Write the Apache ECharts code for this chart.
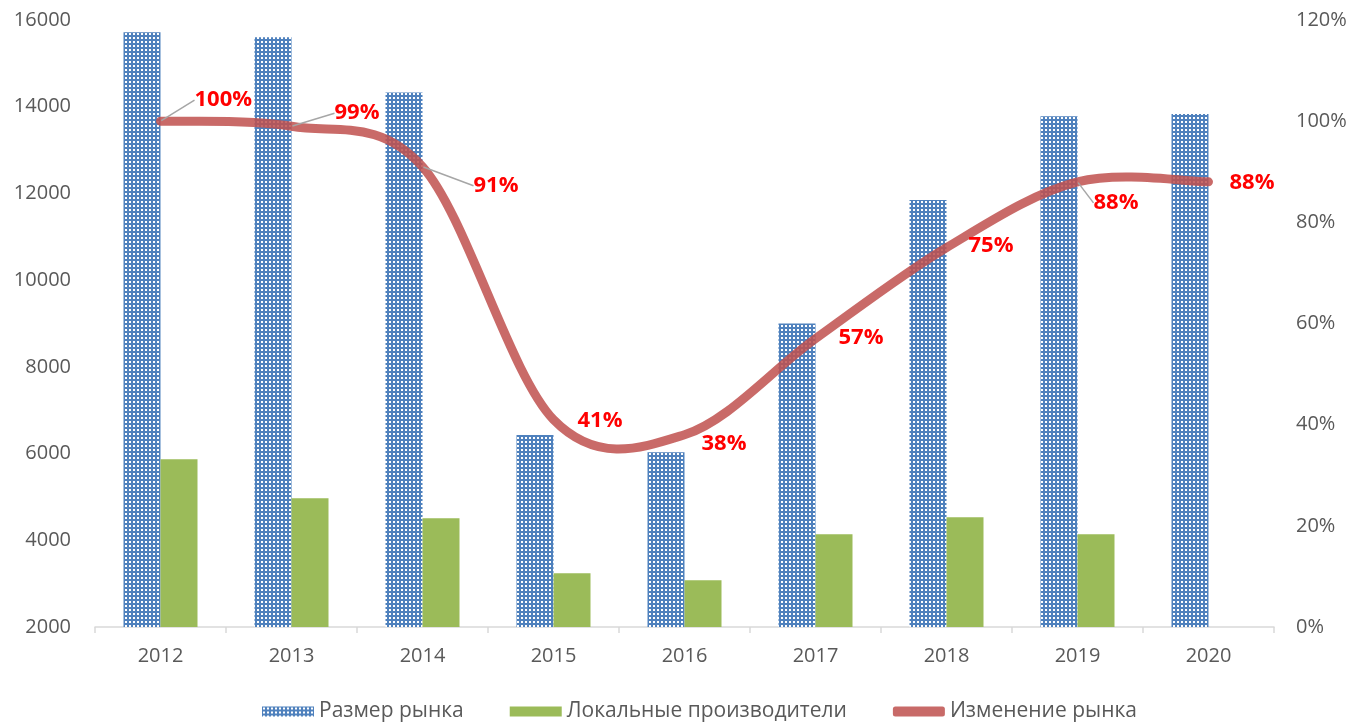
<!DOCTYPE html>
<html>
<head>
<meta charset="utf-8">
<script src="https://cdn.jsdelivr.net/npm/echarts@6/dist/echarts.min.js"></script>
<style>
  html, body { margin: 0; padding: 0; background: #fff; }
  #chart { width: 1353px; height: 727px; }
</style>
</head>
<body>
<div id="chart"></div>
<script>
// данные
const years = ["2012", "2013", "2014", "2015", "2016", "2017", "2018", "2019", "2020"];
const marketSize = [15720, 15600, 14330, 6430, 6030, 9000, 11850, 13780, 13830];
const localMakers = [5870, 4970, 4510, 3240, 3080, 4140, 4530, 4140, null];
const marketChange = [100, 99, 91, 41, 38, 57, 75, 88, 88];

// сдвиг подписей линии (px) и где нужна выноска
const labelShift = [[33, -21], [42, -13], [50, 19], [23, 1], [16, 9], [22, -1], [21, -2], [15, 21], [20, 1]];
const leaderAt = [0, 1, 2, 7];

const FONT = "Open Sans";
const GREY = "#595959";
const LINE_COLOR = "rgba(192, 80, 77, 0.85)";

// точечная заливка для синих столбцов
const makeDots = () => {
  const c = document.createElement("canvas");
  c.width = 4;
  c.height = 4;
  const ctx = c.getContext("2d");
  ctx.fillStyle = "#4F81BD";
  ctx.fillRect(0, 0, 4, 4);
  ctx.fillStyle = "#ffffff";
  ctx.fillRect(1, 1, 2, 2);
  return c;
};
const dots = { image: makeDots(), repeat: "repeat" };

// сглаженная линия как в Excel (Catmull-Rom через точки данных)
const renderSmoothLine = (params, api) => {
  if (params.dataIndex !== 0) return null;
  const pts = marketChange.map((v, i) => api.coord([i, v]));
  const n = pts.length;
  let d = `M${pts[0][0]},${pts[0][1]}`;
  for (let i = 0; i < n - 1; i++) {
    const p0 = pts[Math.max(i - 1, 0)];
    const p1 = pts[i];
    const p2 = pts[i + 1];
    const p3 = pts[Math.min(i + 2, n - 1)];
    const c1 = [p1[0] + (p2[0] - p0[0]) / 6, p1[1] + (p2[1] - p0[1]) / 6];
    const c2 = [p2[0] - (p3[0] - p1[0]) / 6, p2[1] - (p3[1] - p1[1]) / 6];
    d += ` C${c1[0]},${c1[1]} ${c2[0]},${c2[1]} ${p2[0]},${p2[1]}`;
  }
  return {
    type: "path",
    shape: { pathData: d },
    style: { fill: null, stroke: LINE_COLOR, lineWidth: 9, lineCap: "round", lineJoin: "round" },
  };
};

const chart = echarts.init(document.getElementById("chart"), null, { renderer: "canvas" });

const option = {
  animation: false,
  textStyle: { fontFamily: FONT },
  grid: { left: 95, right: 79, top: 20, bottom: 100 },
  legend: {
    bottom: 0,
    left: 257,
    itemGap: 46,
    itemWidth: 52,
    itemHeight: 10,
    textStyle: { fontFamily: FONT, fontSize: 21, color: GREY },
    data: [
      { name: "Размер рынка", icon: "rect" },
      { name: "Локальные производители", icon: "rect" },
      { name: "Изменение рынка", icon: "roundRect", itemStyle: { color: "#C86A68", opacity: 1 } },
    ],
  },
  xAxis: {
    type: "category",
    data: years,
    axisLine: { lineStyle: { color: "#D9D9D9", width: 1.5 } },
    axisTick: { show: true, length: 6, lineStyle: { color: "#D9D9D9", width: 1.5 } },
    axisLabel: { color: GREY, fontSize: 20, margin: 19, fontFamily: FONT },
  },
  yAxis: [
    {
      type: "value",
      min: 2000,
      max: 16000,
      interval: 2000,
      splitLine: { show: false },
      axisLine: { show: false },
      axisLabel: { color: GREY, fontSize: 20, margin: 24, fontFamily: FONT, formatter: (v) => String(v) },
    },
    {
      type: "value",
      min: 0,
      max: 120,
      interval: 20,
      splitLine: { show: false },
      axisLine: { show: false },
      axisLabel: { color: GREY, fontSize: 20, margin: 22, fontFamily: FONT, formatter: "{value}%" },
    },
  ],
  series: [
    {
      name: "Размер рынка",
      type: "bar",
      data: marketSize,
      barWidth: 37,
      barGap: "0%",
      itemStyle: { color: dots },
    },
    {
      name: "Локальные производители",
      type: "bar",
      data: localMakers,
      barWidth: 37,
      itemStyle: { color: "#9BBB59" },
    },
    {
      name: "Изменение рынка",
      type: "custom",
      yAxisIndex: 1,
      z: 5,
      itemStyle: { color: "#C86A68" },
      data: marketChange.map((v, i) => [i, v]),
      renderItem: renderSmoothLine,
    },
    {
      // только подписи к линии
      name: "Изменение рынка",
      type: "line",
      yAxisIndex: 1,
      z: 6,
      symbol: "circle",
      symbolSize: 2,
      showSymbol: true,
      itemStyle: { color: "rgba(0,0,0,0)" },
      lineStyle: { width: 0, opacity: 0 },
      data: marketChange.map((v, i) => ({
        value: v,
        labelLine: { show: leaderAt.includes(i) },
      })),
      label: {
        show: true,
        position: "right",
        distance: 0,
        color: "#FF0000",
        fontWeight: "bold",
        fontSize: 22,
        fontFamily: FONT,
        formatter: "{c}%",
      },
      labelLine: { lineStyle: { color: "#A6A6A6", width: 1.5 } },
      labelLayout: (p) => ({ dx: labelShift[p.dataIndex][0], dy: labelShift[p.dataIndex][1] }),
    },
  ],
};

chart.setOption(option);
</script>
</body>
</html>
